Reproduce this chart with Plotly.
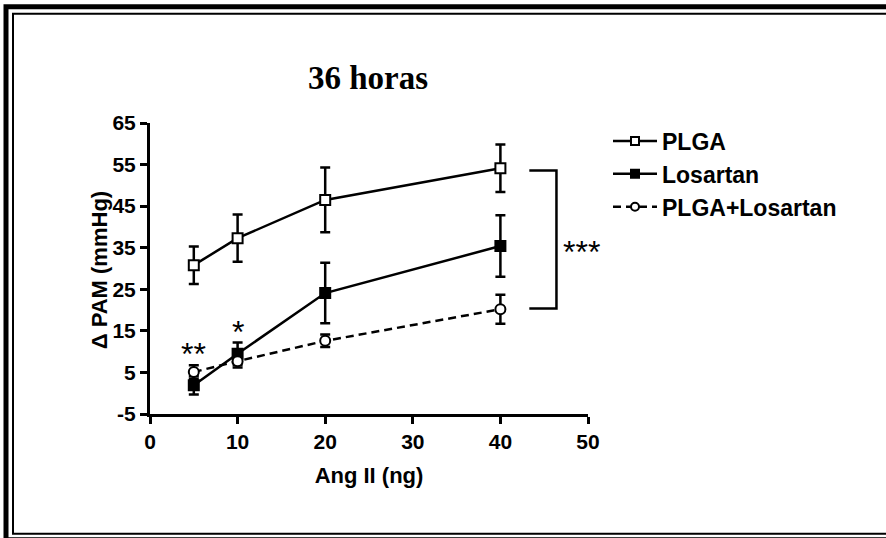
import plotly.graph_objects as go

W, H = 886, 538

doses = [5, 10, 20, 40]
plga = [30.8, 37.3, 46.5, 54.1]
plga_err = [4.5, 5.7, 7.8, 5.7]
losartan = [1.9, 9.5, 24.1, 35.4]
losartan_err = [2.2, 2.7, 7.3, 7.4]
combo = [5.1, 7.7, 12.6, 20.2]
combo_err = [1.6, 1.5, 1.5, 3.5]

series_names = ["PLGA", "Losartan", "PLGA+Losartan"]
x_ticks = [0, 10, 20, 30, 40, 50]
y_ticks = [-5, 5, 15, 25, 35, 45, 55, 65]

ML, MR, MT, MB = 150, 298, 122.5, 124

fig = go.Figure()

def add_series(name, y, err, symbol, fill, dash):
    fig.add_trace(go.Scatter(
        x=doses, y=y, name=f"<b>{name}</b>", mode="lines+markers", showlegend=False,
        line=dict(color="black", width=2.5, dash=dash),
        marker=dict(symbol=symbol, size=10, color=fill,
                    line=dict(color="black", width=2)),
        error_y=dict(type="data", array=err, visible=True, color="black", thickness=2.5, width=5),
        cliponaxis=False,
    ))
    # legend entry with smaller marker, as in the reference
    fig.add_trace(go.Scatter(
        x=[None], y=[None], name=f"<b>{name}</b>", mode="lines+markers",
        line=dict(color="black", width=2.5, dash=dash),
        marker=dict(symbol=symbol, size=8, color=fill, line=dict(color="black", width=2)),
    ))

add_series(series_names[0], plga, plga_err, "square", "white", "solid")
add_series(series_names[1], losartan, losartan_err, "square", "black", "solid")
add_series(series_names[2], combo, combo_err, "circle", "white", "8px,5px")

bracket_x0, bracket_x1 = 43.3, 46.4
fig.add_shape(type="path",
              path=f"M {bracket_x0} {plga[-1]-0.5} L {bracket_x1} {plga[-1]-0.5} L {bracket_x1} {combo[-1]+0.2} L {bracket_x0} {combo[-1]+0.2}",
              xref="x", yref="y", line=dict(color="black", width=2.5))

star_font = dict(family="Liberation Sans, Arial", size=32, color="black")
fig.add_annotation(x=49.3, y=34.0, text="***", showarrow=False, xref="x", yref="y", font=star_font)
fig.add_annotation(x=doses[0], y=9.5, text="**", showarrow=False, xref="x", yref="y", font=star_font)
fig.add_annotation(x=doses[1], y=14.8, text="*", showarrow=False, xref="x", yref="y", font=star_font)

def px(x):
    return (x - ML) / (W - ML - MR)

def py(y):
    return (H - MB - y) / (H - MT - MB)

fig.add_annotation(x=px(368), y=py(77), xref="paper", yref="paper",
                   xanchor="center", yanchor="middle", showarrow=False, text="<b>36 horas</b>",
                   font=dict(family="Liberation Serif, Times New Roman", size=33, color="black"))

fig.add_annotation(x=px(99), y=py(270), xref="paper", yref="paper", textangle=-90,
                   xanchor="center", yanchor="middle", showarrow=False, text="<b>Δ PAM (mmHg)</b>",
                   font=dict(family="Liberation Sans, Arial", size=22, color="black"))

# double frame
frame = [
    (6, 6, 886 + 20, 540, 5),
    (13, 13, 886 + 20, 534, 2),
]
for x0, y0, x1, y1, w in frame:
    fig.add_shape(type="rect", xref="paper", yref="paper",
                  x0=px(x0), x1=px(x1), y0=py(y0), y1=py(y1),
                  line=dict(color="black", width=w), fillcolor="rgba(0,0,0,0)")

tick_font = dict(family="Liberation Sans, Arial", size=21, color="black")
fig.update_layout(
    width=W, height=H,
    margin=dict(l=ML, r=MR, t=MT, b=MB),
    paper_bgcolor="white", plot_bgcolor="white",
    showlegend=True,
    legend=dict(x=px(608), y=py(119), xanchor="left", yanchor="top",
                font=dict(family="Liberation Sans, Arial", size=23, color="black"),
                bgcolor="rgba(0,0,0,0)", tracegroupgap=0, itemwidth=44),
    xaxis=dict(range=[0, 50], tickvals=x_ticks, ticktext=[f"<b>{t}</b>" for t in x_ticks],
               showgrid=False, zeroline=False, showline=True, linecolor="black", linewidth=3,
               ticks="outside", ticklen=7, tickwidth=2.5, tickcolor="black", tickfont=tick_font,
               title=dict(text="<b>Ang II (ng)</b>", font=dict(family="Liberation Sans, Arial", size=22, color="black"), standoff=16)),
    yaxis=dict(range=[-5, 65], tickvals=y_ticks, ticktext=[f"<b>{t}</b>" for t in y_ticks],
               showgrid=False, zeroline=False, showline=True, linecolor="black", linewidth=3,
               ticks="outside", ticklen=7, tickwidth=2.5, tickcolor="black", tickfont=tick_font),
)

fig.write_html("out.html")
